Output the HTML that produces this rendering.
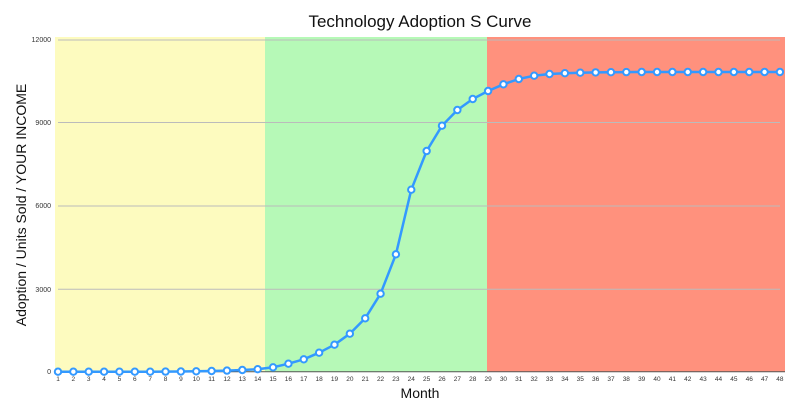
<!DOCTYPE html>
<html><head><meta charset="utf-8"><style>
body{margin:0;background:#fff;}
svg{display:block;font-family:"Liberation Sans",sans-serif;}
</style></head><body>
<svg width="800" height="407" xmlns="http://www.w3.org/2000/svg" id="s">
<text x="420" y="27" font-size="17" text-anchor="middle" fill="#111">Technology Adoption S Curve</text>
<rect x="55" y="37" width="210" height="335" fill="#fdfbbf"/>
<rect x="265" y="37" width="222" height="335" fill="#b6f9b7"/>
<rect x="487" y="37" width="298" height="335" fill="#ff917d"/>
<g stroke="#bbb" stroke-width="1">
<line x1="58" x2="780" y1="40" y2="40"/>
<line x1="58" x2="780" y1="122.5" y2="122.5"/>
<line x1="58" x2="780" y1="206" y2="206"/>
<line x1="58" x2="780" y1="289.3" y2="289.3"/>
</g>
<line x1="55" x2="785" y1="371.7" y2="371.7" stroke="#555" stroke-width="1"/>
<g font-size="7" fill="#333" text-anchor="end">
<text x="51" y="42">12000</text>
<text x="51" y="125">9000</text>
<text x="51" y="208">6000</text>
<text x="51" y="292">3000</text>
<text x="51" y="374">0</text>
</g>
<text transform="translate(26,205) rotate(-90)" font-size="14" text-anchor="middle" fill="#111">Adoption / Units Sold / YOUR INCOME</text>
<text x="420" y="398" font-size="14" text-anchor="middle" fill="#111">Month</text>
<g id="xl" font-size="6.5" fill="#333" text-anchor="middle"></g>
<polyline id="ln" fill="none" stroke="#3399ff" stroke-width="2.5" stroke-linejoin="round"/>
<g id="pts" fill="#fff" stroke="#3399ff" stroke-width="2"></g>
</svg>
<script>
var ys=[371.7,371.7,371.7,371.7,371.7,371.7,371.7,371.6,371.5,371.3,371,370.6,370,369.2,367.3,363.7,359.3,352.7,344.7,333.7,318.3,293.7,254.3,189.7,151,125.7,110,99,91,84.3,79,75.7,74,73.2,72.7,72.4,72.2,72.1,72,72,72,72,72,72,72,72,72,72];
var ns="http://www.w3.org/2000/svg",pts=[],g=document.getElementById('pts'),xl=document.getElementById('xl');
for(var i=0;i<48;i++){var x=58+i*15.36;pts.push(x+","+ys[i]);
var c=document.createElementNS(ns,'circle');c.setAttribute('cx',x);c.setAttribute('cy',ys[i]);c.setAttribute('r',3.2);g.appendChild(c);
var t=document.createElementNS(ns,'text');t.setAttribute('x',x);t.setAttribute('y',381);t.textContent=i+1;xl.appendChild(t);}
document.getElementById('ln').setAttribute('points',pts.join(' '));
</script>
</body></html>
